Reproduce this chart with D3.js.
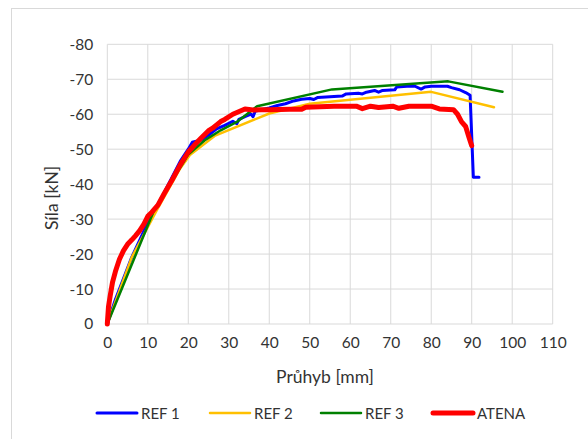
<!DOCTYPE html>
<html>
<head>
<meta charset="utf-8">
<script src="https://cdn.jsdelivr.net/npm/d3@7"></script>
<style>
  body { margin: 0; background: #fff; }
  svg { display: block; font-family: Lato, sans-serif; }
</style>
</head>
<body>
<svg id="chart" width="588" height="439"></svg>
<script>
// --- Data ---
const xTicks = [0, 10, 20, 30, 40, 50, 60, 70, 80, 90, 100, 110];
const yTicks = [0, -10, -20, -30, -40, -50, -60, -70, -80];

const ref1 = [[0,0],[2,-7],[4,-13],[6,-19],[8,-24],[10,-29],[12,-33],[14,-37.5],[16,-42],[18,-46.5],
  [20,-50],[21,-52],[22,-52.3],[23,-52.5],[25,-54],[27,-55.8],[29,-56.8],[31,-58],[32,-57.3],[32.5,-58.5],
  [34,-59.3],[35.5,-60],[36,-59.3],[36.5,-60.8],[38,-61.3],[40,-61.8],[42,-62.5],[44,-63],[46,-63.8],
  [48,-64.3],[50,-64.5],[51,-64.2],[52,-64.8],[55,-65],[58,-65.2],[59,-65.8],[62,-66],[63,-65.8],
  [64,-66.3],[66,-66.8],[67,-66.3],[68,-66.8],[71,-67],[71.5,-67.8],[74,-68],[76,-68],[77.5,-67.2],
  [78.5,-67.8],[80,-68],[84,-68],[85,-67.6],[87,-67],[88.5,-66.2],[89.6,-65.4],[90.4,-42],[91.8,-42]];
const ref2 = [[0,0],[6,-19],[12.2,-32.5],[18,-44.5],[20.4,-48.3],[26.5,-53.8],[40,-60.2],[50,-63],
  [80,-66.4],[95.5,-62]];
const ref3 = [[0,0],[11.5,-32.4],[20,-48.5],[24,-52.5],[28,-55.4],[32,-57.8],[37,-62.3],[55.5,-67.1],
  [84.2,-69.4],[97.6,-66.4]];
const atena = [[0,0],[0.3,-5],[0.7,-8],[1.3,-12],[2,-15],[3,-18.5],[4,-21],[5,-22.8],[6,-24],[7,-25.3],
  [8,-26.7],[9,-28.5],[10,-30.8],[11,-32],[12.5,-34],[14,-37.2],[16,-41.2],[18,-45.5],[20,-49.2],
  [22,-51.8],[23,-53],[25,-55.3],[26,-56],[28,-57.9],[29,-58.5],[31,-60],[32,-60.5],[34,-61.5],
  [36,-61.2],[38,-61.3],[40,-61.3],[45,-61.4],[48,-61.4],[49,-62],[56,-62.3],[61.5,-62.3],[63,-61.6],
  [65,-62.3],[67,-61.9],[70.5,-62.3],[72,-61.7],[74.5,-62.3],[80,-62.3],[82,-61.5],[85.5,-61.3],
  [86.5,-60],[87.5,-57.8],[88.5,-56.5],[89.3,-53.5],[90,-51]];

const seriesNames = ["REF 1", "REF 2", "REF 3", "ATENA"];
const seriesData = [ref1, ref2, ref3, atena];

// --- Styles ---
const colors = ["#0000ff", "#ffc000", "#008000", "#ff0000"];
const widths = [3, 2.5, 2.5, 5];
const legendX = [97, 210, 321, 433];
const textColor = "#333";

const svg = d3.select("#chart");

// outer chart border
svg.append("rect")
  .attr("x", 11.5).attr("y", 8.5)
  .attr("width", 620).attr("height", 500)
  .attr("fill", "none").attr("stroke", "#d9d9d9");

const plotL = 107.3, plotR = 552.7, plotT = 44.3, plotB = 324;

const x = d3.scaleLinear().domain([0, 110]).range([plotL, plotR]);
const y = d3.scaleLinear().domain([0, -80]).range([plotB, plotT]);

// grid
const grid = svg.append("g");
grid.selectAll(".vx").data(xTicks).enter().append("line")
  .attr("x1", d => x(d)).attr("x2", d => x(d))
  .attr("y1", plotT).attr("y2", plotB)
  .attr("stroke", "#d9d9d9").attr("stroke-width", 1);
grid.selectAll(".hy").data(yTicks).enter().append("line")
  .attr("x1", plotL).attr("x2", plotR)
  .attr("y1", d => y(d)).attr("y2", d => y(d))
  .attr("stroke", "#d9d9d9").attr("stroke-width", 1);

// axes (labels only, Excel style)
const xAxis = svg.append("g")
  .attr("transform", `translate(0,${plotB})`)
  .call(d3.axisBottom(x).tickValues(xTicks).tickSize(0).tickPadding(13));
const yAxis = svg.append("g")
  .attr("transform", `translate(${plotL},0)`)
  .call(d3.axisLeft(y).tickValues(yTicks).tickSize(0).tickPadding(14)
    .tickFormat(d => d === 0 ? "0" : "-" + Math.abs(d)));
[xAxis, yAxis].forEach(a => {
  a.select(".domain").remove();
  a.selectAll("text").attr("font-size", 15.5).attr("fill", textColor)
    .attr("font-family", "Lato, sans-serif");
});

// lines
const line = d3.line().x(d => x(d[0])).y(d => y(d[1]));
seriesData.forEach((s, i) => {
  svg.append("path")
    .datum(s)
    .attr("d", line)
    .attr("fill", "none")
    .attr("stroke", colors[i])
    .attr("stroke-width", widths[i])
    .attr("stroke-linejoin", "round")
    .attr("stroke-linecap", "round");
});

// axis titles
svg.append("text")
  .attr("x", 325).attr("y", 383)
  .attr("text-anchor", "middle")
  .attr("font-size", 17.5).attr("fill", textColor)
  .text("Průhyb [mm]");
svg.append("text")
  .attr("transform", "translate(58,198) rotate(-90)")
  .attr("text-anchor", "middle")
  .attr("font-size", 17.5).attr("fill", textColor)
  .text("Síla [kN]");

// legend
const legend = svg.append("g");
seriesNames.forEach((name, i) => {
  legend.append("line")
    .attr("x1", legendX[i]).attr("x2", legendX[i] + 40)
    .attr("y1", 413).attr("y2", 413)
    .attr("stroke", colors[i]).attr("stroke-width", widths[i])
    .attr("stroke-linecap", "round");
  legend.append("text")
    .attr("x", legendX[i] + 44).attr("y", 418.5)
    .attr("font-size", 15).attr("fill", textColor)
    .text(name);
});
</script>
</body>
</html>
